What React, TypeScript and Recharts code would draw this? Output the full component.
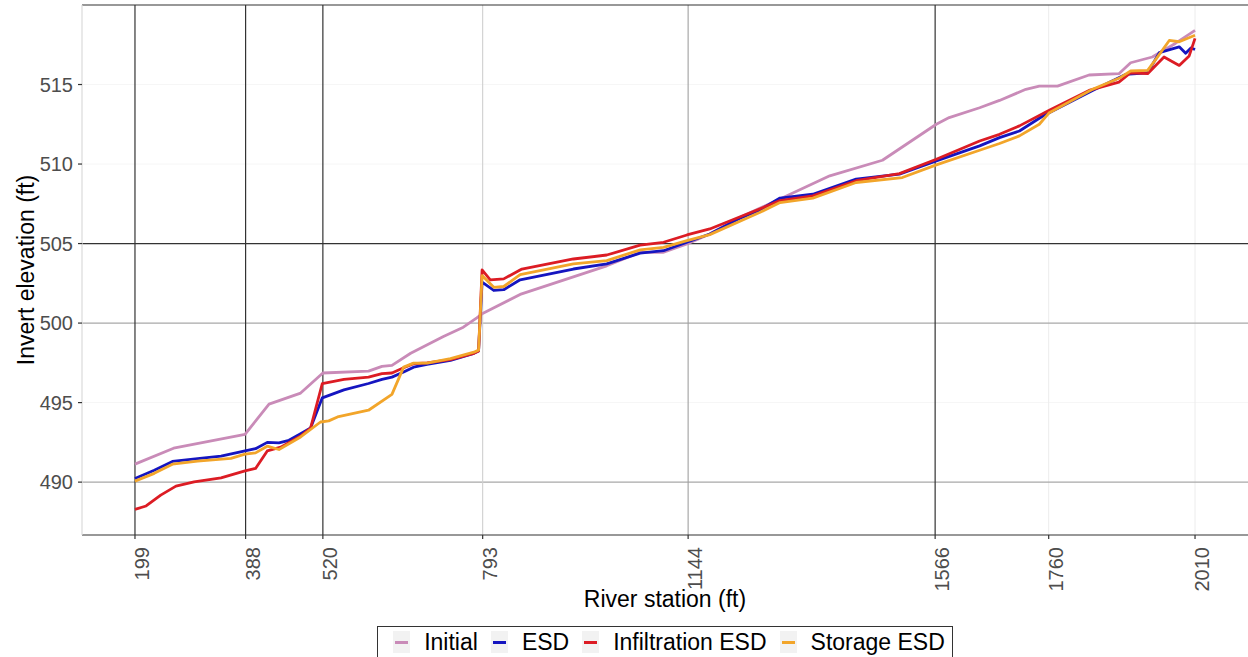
import React from 'react';
import { LineChart, Line, XAxis, YAxis, ReferenceLine, Legend, Label } from 'recharts';

// ---- Data ----
const xTicks = [199, 388, 520, 793, 1144, 1566, 1760, 2010];
const yTicks = [490, 495, 500, 505, 510, 515];

const darkStations = [199, 388, 520, 1566];
const midStations = [793, 1144];
const lightStations = [1760, 2010];
const darkElevations = [505, 520];
const midElevations = [490, 500];
const lightElevations = [495, 510, 515];

const initialStations = [199, 265, 387, 428, 482, 520, 598, 621, 638, 670, 726, 760, 783, 792, 857, 1005, 1062, 1101, 1142, 1181, 1230, 1301, 1386, 1476, 1568, 1590, 1642, 1676, 1721, 1744, 1775, 1829, 1880, 1900, 1937, 1977, 2010];
const initialElev = [491.13, 492.13, 493.0, 494.9, 495.6, 496.86, 496.98, 497.28, 497.34, 498.1, 499.16, 499.74, 500.33, 500.58, 501.8, 503.6, 504.45, 504.45, 504.97, 505.6, 506.6, 507.8, 509.26, 510.24, 512.5, 512.92, 513.54, 514.0, 514.7, 514.9, 514.9, 515.6, 515.68, 516.37, 516.73, 517.6, 518.4];

const esdStations = [199, 232, 263, 306, 346, 387, 405, 425, 445, 462, 482, 499, 519, 556, 598, 621, 638, 658, 675, 698, 738, 778, 786, 792, 812, 829, 857, 948, 1005, 1062, 1102, 1142, 1181, 1230, 1266, 1301, 1357, 1431, 1505, 1568, 1642, 1676, 1710, 1750, 1835, 1892, 1929, 1949, 1983, 1994, 2003, 2010];
const esdElev = [490.23, 490.75, 491.3, 491.48, 491.63, 491.96, 492.1, 492.5, 492.47, 492.63, 493.05, 493.4, 495.3, 495.8, 496.2, 496.46, 496.6, 496.92, 497.23, 497.4, 497.65, 498.1, 498.25, 502.57, 502.05, 502.1, 502.72, 503.4, 503.72, 504.4, 504.55, 505.08, 505.6, 506.55, 507.1, 507.86, 508.1, 509.05, 509.37, 510.2, 511.14, 511.66, 512.08, 513.02, 514.63, 515.64, 515.74, 517.0, 517.37, 516.96, 517.3, 517.2];

const infilStations = [199, 218, 243, 269, 300, 346, 387, 405, 425, 448, 482, 499, 519, 556, 598, 621, 638, 658, 675, 698, 738, 778, 786, 792, 806, 829, 860, 948, 1005, 1062, 1102, 1142, 1181, 1266, 1301, 1357, 1431, 1505, 1568, 1642, 1676, 1710, 1761, 1829, 1880, 1900, 1929, 1957, 1983, 2000, 2010];
const infilElev = [488.29, 488.5, 489.18, 489.75, 490.02, 490.27, 490.71, 490.86, 491.96, 492.2, 492.9, 493.4, 496.2, 496.46, 496.6, 496.82, 496.86, 497.19, 497.45, 497.5, 497.7, 498.1, 498.25, 503.34, 502.72, 502.78, 503.4, 504.03, 504.28, 504.9, 505.08, 505.54, 505.92, 507.17, 507.7, 508.0, 508.95, 509.4, 510.3, 511.45, 511.87, 512.4, 513.38, 514.63, 515.15, 515.74, 515.68, 516.73, 516.2, 516.8, 517.9];

const storageStations = [199, 232, 263, 306, 363, 387, 405, 425, 445, 482, 516, 530, 545, 598, 638, 658, 675, 698, 738, 778, 786, 792, 812, 829, 857, 948, 1005, 1062, 1102, 1142, 1181, 1266, 1301, 1357, 1431, 1510, 1568, 1642, 1676, 1710, 1744, 1761, 1835, 1880, 1900, 1929, 1943, 1966, 1983, 2010];
const storageElev = [490.06, 490.55, 491.13, 491.32, 491.49, 491.76, 491.84, 492.26, 492.05, 492.84, 493.78, 493.85, 494.1, 494.52, 495.52, 497.23, 497.48, 497.48, 497.76, 498.17, 498.3, 502.99, 502.25, 502.3, 503.05, 503.72, 503.93, 504.6, 504.76, 505.18, 505.56, 506.95, 507.58, 507.86, 508.84, 509.15, 509.95, 510.87, 511.29, 511.77, 512.5, 513.23, 514.7, 515.39, 515.85, 515.89, 516.58, 517.77, 517.69, 518.1];

const seriesNames = ['Initial', 'ESD', 'Infiltration ESD', 'Storage ESD'];
const seriesColors = ['#C98BB8', '#1515C0', '#DC1C24', '#F2A52A'];

const toPoints = (xs: number[], ys: number[]) => xs.map((x, i) => ({ x, y: ys[i] }));

const seriesData = [
  toPoints(initialStations, initialElev),
  toPoints(esdStations, esdElev),
  toPoints(infilStations, infilElev),
  toPoints(storageStations, storageElev),
];

const FONT = '"Liberation Sans", Arial, sans-serif';

const XTick = (props: any) => {
  const { x, y, payload } = props;
  const cx = x + 7;
  return (
    <text
      x={cx}
      y={y}
      transform={`rotate(-90, ${cx}, ${y})`}
      textAnchor="end"
      dominantBaseline="central"
      fill="#4D4D4D"
      fontSize={20}
      fontFamily={FONT}
    >
      {payload.value}
    </text>
  );
};

const YTick = (props: any) => {
  const { x, y, payload } = props;
  return (
    <text x={x} y={y} textAnchor="end" dominantBaseline="central" fill="#4D4D4D" fontSize={20} fontFamily={FONT}>
      {payload.value}
    </text>
  );
};

const renderLegend = () => (
  <div style={{ display: 'flex', justifyContent: 'center', width: '100%' }}>
    <div
      style={{
        border: '1px solid #333',
        height: 40,
        boxSizing: 'border-box',
        display: 'flex',
        alignItems: 'flex-start',
        paddingTop: 2,
        paddingLeft: 15,
        paddingRight: 7,
        fontFamily: FONT,
        fontSize: 23,
        lineHeight: '26px',
        color: '#000',
      }}
    >
      {seriesNames.map((name, i) => (
        <div key={name} style={{ display: 'flex', alignItems: 'center', marginRight: i < 3 ? 13 : 0 }}>
          <div
            style={{
              width: 17,
              height: 22,
              background: '#F2F2F2',
              display: 'flex',
              alignItems: 'center',
              justifyContent: 'center',
              marginRight: 14,
            }}
          >
            <div style={{ width: 13, height: 3, background: seriesColors[i] }} />
          </div>
          <span style={{ whiteSpace: 'nowrap' }}>{name}</span>
        </div>
      ))}
    </div>
  </div>
);

export default function App() {
  return (
    <div style={{ position: 'absolute', left: 0, top: 0, width: 1248, height: 657, background: '#fff', overflow: 'hidden' }}>
      <LineChart width={1248} height={657} margin={{ top: 5, right: 0, bottom: 0, left: 0 }}>
        <XAxis
          type="number"
          dataKey="x"
          domain={[108.5, 2100.5]}
          allowDataOverflow
          ticks={xTicks}
          interval={0}
          height={122}
          tick={<XTick />}
          tickSize={4}
          tickMargin={8}
          axisLine={{ stroke: '#333333', strokeWidth: 1.2 }}
          tickLine={{ stroke: '#333333', strokeWidth: 1.2 }}
        >
          <Label
            content={(p: any) => {
              const vb = p.viewBox || { x: 82, y: 535, width: 1166 };
              return (
                <text x={vb.x + vb.width / 2} y={vb.y + 72} textAnchor="middle" fill="#000" fontSize={23} fontFamily={FONT}>
                  River station (ft)
                </text>
              );
            }}
          />
        </XAxis>
        <YAxis
          type="number"
          domain={[486.675, 520]}
          allowDataOverflow
          ticks={yTicks}
          interval={0}
          width={82}
          tick={<YTick />}
          tickSize={4}
          tickMargin={5}
          axisLine={{ stroke: '#DADADA', strokeWidth: 1.2 }}
          tickLine={{ stroke: '#333333', strokeWidth: 1.2 }}
        >
          <Label
            content={(p: any) => {
              const vb = p.viewBox || { x: 0, y: 5, height: 530 };
              const cx = vb.x + 26;
              const cy = vb.y + vb.height / 2;
              return (
                <text
                  x={cx}
                  y={cy}
                  transform={`rotate(-90, ${cx}, ${cy})`}
                  textAnchor="middle"
                  dominantBaseline="central"
                  fill="#000"
                  fontSize={23}
                  fontFamily={FONT}
                >
                  Invert elevation (ft)
                </text>
              );
            }}
          />
        </YAxis>

        {lightElevations.map((v) => (
          <ReferenceLine key={'le' + v} y={v} stroke="#F6F6F6" strokeWidth={1} />
        ))}
        {lightStations.map((v) => (
          <ReferenceLine key={'ls' + v} x={v} stroke="#ECECEC" strokeWidth={1} />
        ))}
        {midElevations.map((v) => (
          <ReferenceLine key={'me' + v} y={v} stroke="#A8A8A8" strokeWidth={1.1} />
        ))}
        {midStations.map((v, i) => (
          <ReferenceLine key={'ms' + v} x={v} stroke={i === 0 ? '#CFCFCF' : '#A0A0A0'} strokeWidth={1.1} />
        ))}
        {darkElevations.map((v) => (
          <ReferenceLine key={'de' + v} y={v} stroke="#333333" strokeWidth={1.2} />
        ))}
        {darkStations.map((v) => (
          <ReferenceLine key={'ds' + v} x={v} stroke="#333333" strokeWidth={1.2} />
        ))}

        {seriesData.map((d, i) => (
          <Line
            key={seriesNames[i]}
            data={d}
            dataKey="y"
            name={seriesNames[i]}
            type="linear"
            stroke={seriesColors[i]}
            strokeWidth={2.8}
            dot={false}
            activeDot={false}
            isAnimationActive={false}
            strokeLinejoin="round"
          />
        ))}

        <Legend
          verticalAlign="middle"
          align="center"
          layout="horizontal"
          content={renderLegend}
          wrapperStyle={{ top: 626, left: 82, width: 1166, height: 31 }}
        />
      </LineChart>
    </div>
  );
}
